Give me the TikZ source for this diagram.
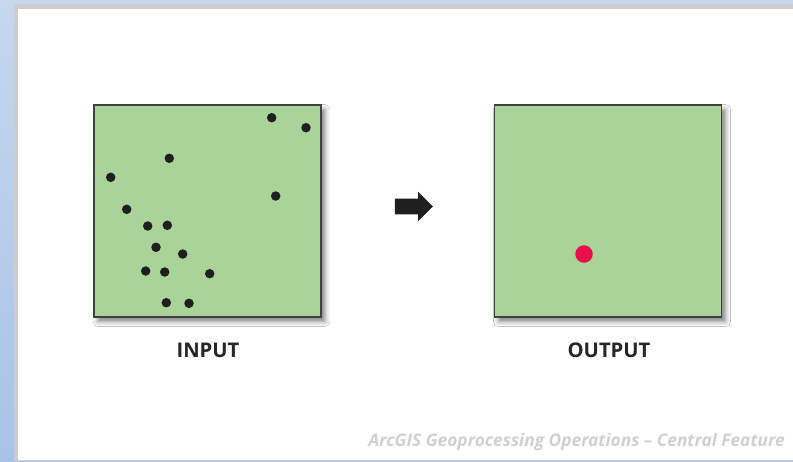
\documentclass[tikz,border=0pt]{standalone}
\usepackage{fontspec}
\setsansfont{Open Sans}
\usetikzlibrary{positioning, shapes.arrows, shadows.blur}

\definecolor{deskblue}{RGB}{198,215,238}
\definecolor{deskblueb}{RGB}{168,195,230}
\definecolor{frame}{RGB}{205,205,205}
\definecolor{fieldgreen}{RGB}{169,211,152}
\definecolor{fieldedge}{RGB}{64,64,64}
\definecolor{centerred}{RGB}{232,16,74}
\definecolor{footgray}{RGB}{208,208,208}

\begin{document}
\begin{tikzpicture}[
  x=0.02cm, y=-0.02cm,
  font=\sffamily,
  field/.style={
    draw=fieldedge, line width=1.1pt, fill=fieldgreen, inner sep=0pt,
    minimum width=4.54cm, minimum height=4.24cm,
    blur shadow={shadow xshift=0.08cm, shadow yshift=-0.09cm,
      shadow blur radius=0.1cm, shadow opacity=50}
  },
  feat/.style={circle, fill=black!88, inner sep=0pt, minimum size=0.19cm},
  central/.style={circle, fill=centerred, inner sep=0pt, minimum size=0.35cm},
  fieldlbl/.style={font=\sffamily\bfseries\fontsize{11.5}{13}\selectfont, text=black!85},
  footer/.style={font=\sffamily\bfseries\itshape\fontsize{9.85}{12}\selectfont,
    text=footgray, anchor=east, inner sep=0pt},
  flow/.style={single arrow, fill=black!88, inner xsep=0pt, inner ysep=0.15cm,
    minimum height=0.76cm, single arrow head extend=0.14cm,
    single arrow head indent=0pt},
]
  \useasboundingbox (0,0) rectangle (793,461);

  % --- window background ---
  \shade[top color=deskblue, bottom color=deskblueb] (0,0) rectangle (793,461);
  \fill[frame] (14,4) rectangle (793,461);
  \fill[white] (18,9) rectangle (793,459.5);

  % --- input points ---
  \node[field] (input) at (207.5,211) {};
  \foreach \px/\py [count=\i] in {271.7/117.7, 306/127.7, 169.3/158.3, 110.7/177.3,
      275.7/196, 126.7/209.3, 147.7/226, 167.3/225.3, 156/247.3, 182.7/254,
      145.7/271, 164.7/272, 209.7/273.7, 166.3/302.7, 189/303.3}
    \node[feat] (pt\i) at (\px,\py) {};
  \node[fieldlbl] (inlbl) at (208,350) {INPUT};

  % --- operation arrow ---
  \node[flow] (go) at (410,206.5) {};

  % --- output central feature ---
  \node[field] (output) at (608,211) {};
  \node[central] (cf) at (584,254) {};
  \node[fieldlbl] (outlbl) at (609,350) {OUTPUT};

  \node[footer] (credit) at (785,442) {ArcGIS Geoprocessing Operations -- Central Feature};
\end{tikzpicture}
\end{document}
